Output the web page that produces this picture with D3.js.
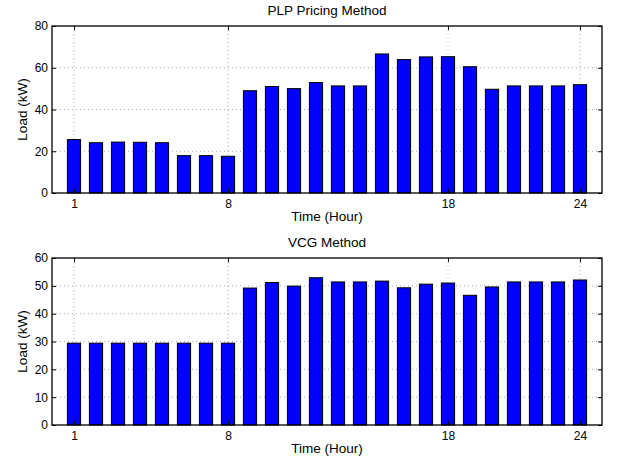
<!DOCTYPE html>
<html lang="en">
<head>
    <meta charset="UTF-8">
    <title>Load per hour</title>
    <script src="https://d3js.org/d3.v7.min.js"></script>
    <style>
        body { margin: 0; background: #fff; }
        text { font-family: "Liberation Sans", Arial, Helvetica, sans-serif; font-size: 13.5px; fill: #000; }
    </style>
</head>
<body>
<script>
    hours = d3.range(1, 25)
    xTicks = [1, 8, 18, 24]

    plpLoad = [25.6, 24.1, 24.4, 24.3, 24.1, 17.9, 17.9, 17.6,
               49.0, 51.0, 50.0, 52.9, 51.3, 51.3, 66.6, 63.9,
               65.2, 65.3, 60.5, 49.7, 51.3, 51.3, 51.3, 51.9]
    plpTicks = [0, 20, 40, 60, 80]

    vcgLoad = [29.4, 29.4, 29.4, 29.4, 29.4, 29.4, 29.4, 29.4,
               49.2, 51.2, 49.9, 52.9, 51.4, 51.4, 51.7, 49.3,
               50.6, 51.0, 46.6, 49.6, 51.4, 51.4, 51.4, 52.1]
    vcgTicks = [0, 10, 20, 30, 40, 50, 60]

    //page size
    w = 617
    h = 462

    svg = d3.select("body")
        .append("svg")
        .attr("width", w)
        .attr("height", h)

    left = 52
    right = 602

    x = d3.scaleLinear()
        .domain([0, 25])
        .range([left, right])

    function drawPanel(top, bottom, values, ticks, title) {
        y = d3.scaleLinear()
            .domain([0, d3.max(ticks)])
            .range([bottom, top])

        g = svg.append("g")

        //grid
        g.selectAll("line.hgrid")
            .data(ticks.slice(1, -1))
            .enter().append("line")
            .attr("x1", left).attr("x2", right)
            .attr("y1", (d) => y(d)).attr("y2", (d) => y(d))
            .attr("stroke", "#888").attr("stroke-width", 0.7)
            .attr("stroke-dasharray", "1,3")

        g.selectAll("line.vgrid")
            .data(xTicks)
            .enter().append("line")
            .attr("x1", (d) => x(d)).attr("x2", (d) => x(d))
            .attr("y1", top).attr("y2", bottom)
            .attr("stroke", "#888").attr("stroke-width", 0.7)
            .attr("stroke-dasharray", "1,3")

        //bars
        bw = x(0.6) - x(0)
        g.selectAll("rect.bar")
            .data(values)
            .enter().append("rect")
            .attr("class", "bar")
            .attr("x", (d, i) => x(hours[i]) - bw / 2)
            .attr("width", bw)
            .attr("y", (d) => y(d))
            .attr("height", (d) => y(0) - y(d))
            .attr("fill", "#0000ff")
            .attr("stroke", "#000")
            .attr("stroke-width", 1)

        //axes, ticks pointing inwards
        g.append("g")
            .attr("transform", "translate(0," + bottom + ")")
            .call(d3.axisBottom(x).tickValues(xTicks).tickSizeInner(-4).tickSizeOuter(0).tickPadding(6))
        g.append("g")
            .attr("transform", "translate(0," + top + ")")
            .call(d3.axisTop(x).tickValues(xTicks).tickSizeInner(-4).tickSizeOuter(0).tickFormat(""))
        g.append("g")
            .attr("transform", "translate(" + left + ",0)")
            .call(d3.axisLeft(y).tickValues(ticks).tickSizeInner(-4).tickSizeOuter(0).tickPadding(4))
        g.append("g")
            .attr("transform", "translate(" + right + ",0)")
            .call(d3.axisRight(y).tickValues(ticks).tickSizeInner(-4).tickSizeOuter(0).tickFormat(""))

        g.selectAll(".domain").remove()
        g.selectAll(".tick line").attr("stroke", "#000")
        g.selectAll(".tick text")
            .style("font-family", "'Liberation Sans', Arial, sans-serif")
            .style("font-size", "12px")
            .attr("fill", "#000")

        g.append("rect")
            .attr("x", left).attr("y", top)
            .attr("width", right - left).attr("height", bottom - top)
            .attr("fill", "none").attr("stroke", "#000").attr("stroke-width", 1.3)

        g.append("text")
            .attr("x", (left + right) / 2).attr("y", top - 11.5)
            .attr("text-anchor", "middle")
            .text(title)

        g.append("text")
            .attr("x", (left + right) / 2).attr("y", bottom + 28)
            .attr("text-anchor", "middle")
            .text("Time (Hour)")

        g.append("text")
            .attr("transform", "translate(27," + (top + bottom) / 2 + ") rotate(-90)")
            .attr("text-anchor", "middle")
            .text("Load (kW)")
    }

    drawPanel(26, 193, plpLoad, plpTicks, "PLP Pricing Method")
    drawPanel(258, 425, vcgLoad, vcgTicks, "VCG Method")
</script>
</body>
</html>
